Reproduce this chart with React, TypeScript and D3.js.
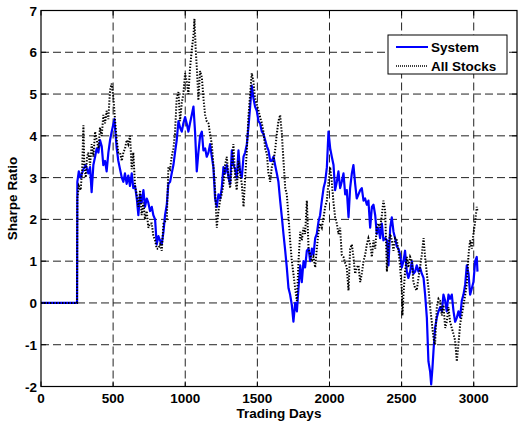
import React from "react";
import * as d3 from "d3";

const xTicks = [0, 500, 1000, 1500, 2000, 2500, 3000];
const yTicks = [-2, -1, 0, 1, 2, 3, 4, 5, 6, 7];
const seriesNames = ["System", "All Stocks"];

const systemSeries: [number, number][] = [
  [0, 0], [250, 0], [252, 2.9], [262, 3.15], [275, 3.0], [294, 3.2], [310, 3.3], [328, 3.1], [340, 3.25], [351, 2.65],
  [363, 3.3], [375, 3.5], [386, 3.7], [398, 3.6], [409, 3.9], [421, 3.75], [432, 3.3], [444, 3.4], [455, 3.15], [467, 3.6],
  [479, 3.9], [490, 4.1], [509, 4.4], [513, 4.2], [525, 3.7], [536, 3.4], [548, 3.2], [560, 3.0], [571, 2.9], [582, 3.1],
  [594, 2.85], [605, 3.05], [617, 2.8], [629, 3.1], [640, 2.75], [652, 2.8], [664, 2.5], [675, 2.1], [687, 2.6], [698, 2.4],
  [710, 2.7], [721, 2.3], [733, 2.5], [744, 2.4], [756, 2.2], [768, 2.3], [779, 2.1], [791, 2.0], [802, 1.4], [814, 1.6],
  [825, 1.5], [837, 1.4], [849, 1.7], [860, 2.1], [872, 2.35], [883, 2.85], [895, 2.9], [906, 3.1], [918, 3.3], [929, 3.6],
  [941, 3.9], [953, 4.35], [964, 4.2], [976, 4.1], [987, 4.3], [999, 4.45], [1010, 4.3], [1022, 4.1], [1033, 4.3], [1045, 4.5],
  [1057, 4.7], [1068, 4.1], [1080, 3.15], [1091, 3.6], [1103, 4.0], [1115, 4.1], [1126, 3.65], [1138, 3.7], [1149, 3.5], [1161, 3.6],
  [1172, 3.8], [1184, 3.5], [1195, 3.25], [1207, 2.5], [1219, 2.3], [1230, 2.6], [1242, 2.5], [1253, 2.75], [1265, 3.25], [1276, 3.1],
  [1288, 3.3], [1300, 3.0], [1311, 2.85], [1323, 3.65], [1334, 3.3], [1346, 3.2], [1357, 3.0], [1369, 3.65], [1380, 3.15], [1392, 3.0],
  [1404, 3.5], [1415, 3.6], [1427, 3.8], [1438, 4.2], [1450, 4.7], [1461, 5.2], [1473, 4.9], [1484, 4.7], [1496, 4.6], [1508, 4.35],
  [1519, 4.3], [1531, 4.1], [1542, 4.05], [1554, 3.9], [1566, 3.75], [1577, 3.65], [1589, 3.4], [1600, 3.4], [1612, 3.5], [1623, 3.3],
  [1635, 3.1], [1646, 2.9], [1658, 2.45], [1670, 2.05], [1681, 1.65], [1693, 1.25], [1704, 0.85], [1716, 0.35], [1727, 0.2], [1739, -0.05],
  [1750, -0.45], [1762, 0.0], [1774, -0.2], [1785, 0.35], [1797, 0.9], [1808, 0.5], [1820, 1.0], [1831, 0.85], [1843, 1.25], [1855, 1.3],
  [1866, 1.0], [1878, 1.3], [1889, 1.15], [1901, 1.55], [1912, 1.65], [1924, 1.95], [1935, 2.1], [1947, 2.45], [1959, 2.75], [1970, 2.9],
  [1982, 3.25], [1993, 4.1], [2005, 3.7], [2016, 3.5], [2028, 3.3], [2039, 2.7], [2051, 2.9], [2062, 3.15], [2074, 2.75], [2085, 2.9],
  [2097, 3.1], [2109, 2.6], [2120, 2.7], [2132, 2.05], [2143, 2.75], [2155, 3.1], [2166, 3.3], [2178, 2.85], [2189, 2.5], [2201, 2.6],
  [2213, 2.7], [2224, 2.75], [2236, 2.45], [2247, 2.5], [2259, 2.35], [2270, 2.45], [2282, 1.8], [2294, 2.3], [2305, 2.35], [2317, 2.1],
  [2328, 1.65], [2340, 1.8], [2351, 1.55], [2363, 1.9], [2374, 1.5], [2386, 1.55], [2398, 1.5], [2409, 0.9], [2421, 1.8], [2432, 2.05],
  [2444, 1.7], [2455, 1.55], [2467, 1.35], [2478, 1.3], [2490, 1.15], [2501, 0.85], [2513, 1.0], [2524, 1.25], [2536, 0.75], [2547, 0.6],
  [2559, 0.75], [2571, 1.0], [2582, 0.7], [2594, 0.75], [2605, 0.9], [2617, 0.75], [2628, 0.85], [2640, 0.7], [2652, 0.6], [2663, 0.2],
  [2675, -0.35], [2686, -1.4], [2698, -1.65], [2705, -1.95], [2714, -1.55], [2721, -1.15], [2732, -0.6], [2744, -0.35], [2756, -0.2], [2767, -0.1],
  [2779, -0.2], [2790, 0.2], [2802, 0.05], [2813, -0.2], [2825, 0.2], [2836, 0.1], [2848, 0.2], [2860, -0.2], [2871, -0.45], [2883, -0.35],
  [2894, -0.2], [2906, -0.35], [2917, 0.05], [2929, 0.2], [2941, 0.45], [2952, 0.9], [2964, 0.7], [2975, 0.2], [2987, 0.35], [2998, 0.5],
  [3010, 1.0], [3021, 1.1], [3026, 0.75],
];

const allStocksSeries: [number, number][] = [
  [0, 0], [250, 0], [252, 2.5], [262, 2.8], [275, 2.7], [285, 3.2], [294, 4.25], [300, 3.3], [310, 3.0], [320, 3.5],
  [328, 3.6], [340, 3.3], [351, 3.8], [363, 3.5], [375, 4.1], [386, 3.9], [398, 3.7], [409, 4.2], [421, 4.0], [432, 4.5],
  [444, 4.3], [455, 4.6], [467, 4.4], [479, 5.1], [490, 5.25], [502, 4.9], [513, 4.4], [525, 3.9], [536, 3.6], [548, 3.6],
  [560, 3.4], [571, 3.6], [583, 3.7], [594, 3.9], [605, 3.8], [617, 4.0], [629, 3.2], [640, 3.6], [652, 2.8], [664, 2.6],
  [675, 2.3], [687, 2.7], [698, 2.1], [710, 2.4], [721, 2.0], [733, 2.2], [744, 1.8], [756, 1.9], [768, 1.9], [779, 1.6],
  [791, 1.5], [802, 1.3], [814, 1.3], [825, 1.4], [837, 1.25], [849, 1.9], [860, 1.95], [872, 2.0], [883, 3.25], [895, 3.2],
  [906, 3.5], [918, 3.7], [929, 4.05], [941, 4.9], [953, 5.05], [964, 4.35], [976, 4.8], [987, 5.0], [999, 5.5], [1010, 5.3],
  [1022, 5.0], [1033, 5.6], [1045, 6.05], [1057, 6.4], [1064, 6.8], [1073, 6.05], [1082, 5.55], [1091, 4.85], [1103, 5.55], [1115, 5.4],
  [1126, 4.9], [1138, 4.5], [1149, 4.35], [1161, 4.3], [1172, 4.05], [1184, 3.8], [1195, 3.3], [1207, 2.7], [1219, 1.8], [1230, 2.2],
  [1242, 2.45], [1253, 2.6], [1265, 2.85], [1276, 3.3], [1288, 3.5], [1300, 3.0], [1311, 2.75], [1323, 3.25], [1334, 3.8], [1346, 3.0],
  [1357, 2.7], [1369, 3.4], [1380, 3.1], [1392, 2.85], [1404, 2.3], [1415, 3.0], [1427, 3.65], [1438, 4.45], [1450, 5.0], [1461, 5.5],
  [1473, 5.3], [1484, 4.9], [1496, 4.75], [1508, 4.6], [1519, 4.45], [1531, 4.3], [1542, 4.1], [1554, 3.7], [1566, 3.55], [1577, 3.1],
  [1589, 2.9], [1600, 3.25], [1612, 3.4], [1623, 3.65], [1635, 4.05], [1646, 4.35], [1658, 4.5], [1670, 4.05], [1681, 3.4], [1693, 2.75],
  [1704, 2.6], [1716, 2.05], [1727, 1.5], [1739, 1.0], [1750, 0.7], [1762, 0.35], [1774, 0.05], [1785, 1.0], [1797, 1.7], [1808, 1.5],
  [1820, 1.8], [1831, 1.65], [1843, 2.45], [1855, 1.3], [1866, 1.15], [1878, 1.0], [1889, 1.1], [1901, 0.85], [1912, 1.3], [1924, 1.7],
  [1935, 1.9], [1947, 1.8], [1959, 2.05], [1970, 2.3], [1982, 2.45], [1993, 2.9], [2005, 3.25], [2016, 2.9], [2028, 2.4], [2039, 2.05],
  [2051, 1.9], [2062, 1.65], [2074, 1.8], [2085, 1.15], [2097, 1.1], [2109, 0.95], [2120, 0.85], [2132, 0.3], [2143, 1.3], [2155, 1.4],
  [2166, 1.1], [2178, 0.7], [2189, 0.85], [2201, 0.9], [2213, 0.5], [2224, 0.7], [2236, 1.0], [2247, 1.15], [2259, 1.4], [2270, 1.55],
  [2282, 1.4], [2294, 1.1], [2305, 1.5], [2317, 1.3], [2328, 1.8], [2340, 1.9], [2351, 1.8], [2363, 2.1], [2374, 2.45], [2386, 2.2],
  [2398, 0.75], [2409, 1.4], [2421, 1.65], [2432, 1.5], [2444, 1.25], [2455, 1.55], [2467, 1.5], [2478, 1.25], [2490, 0.85], [2501, 0.35],
  [2506, -0.3], [2513, 0.2], [2524, 0.75], [2536, 1.1], [2547, 0.85], [2559, 1.1], [2571, 1.0], [2582, 0.5], [2594, 0.35], [2605, 0.3],
  [2617, 0.6], [2628, 0.85], [2640, 1.15], [2652, 1.55], [2663, 1.1], [2675, 0.7], [2686, 0.35], [2698, -0.1], [2709, -0.45], [2721, -0.85],
  [2732, -1.0], [2744, -0.1], [2756, 0.1], [2767, 0.05], [2779, -0.3], [2790, -0.05], [2802, -0.6], [2813, -0.45], [2825, -0.1], [2836, -0.45],
  [2848, -0.6], [2860, -0.75], [2871, -0.9], [2883, -1.4], [2894, -1.0], [2906, -0.5], [2917, -0.3], [2929, -0.05], [2941, 0.2], [2952, 0.45],
  [2964, 1.15], [2975, 1.5], [2987, 1.3], [2998, 1.65], [3010, 1.95], [3021, 2.3], [3026, 2.2],
];

const W = 519;
const H = 427;
const M = { left: 41, right: 517, top: 10.5, bottom: 386.5 };
const FONT = "'Liberation Sans', Arial, Helvetica, sans-serif";

export default function App() {
  const x = d3.scaleLinear().domain([0, 3300]).range([M.left, M.right]);
  const y = d3.scaleLinear().domain([-2, 7]).range([M.bottom, M.top]);
  const line = d3
    .line<[number, number]>()
    .x((d) => x(d[0]))
    .y((d) => y(d[1]));
  const tickLen = 5;
  const gridDash = "8,4";

  return (
    <svg
      width={W}
      height={H}
      style={{ position: "absolute", left: 0, top: 0, background: "#fff" }}
      fontFamily={FONT}
    >
      <rect x={0} y={0} width={W} height={H} fill="#fff" />
      {/* grid */}
      {xTicks.slice(1).map((t) => (
        <line key={"gx" + t} x1={x(t)} x2={x(t)} y1={M.top} y2={M.bottom} stroke="#222" strokeWidth={1} strokeDasharray={gridDash} />
      ))}
      {yTicks.slice(1, -1).map((t) => (
        <line key={"gy" + t} x1={M.left} x2={M.right} y1={y(t)} y2={y(t)} stroke="#222" strokeWidth={1} strokeDasharray={gridDash} />
      ))}
      {/* series */}
      <path d={line(systemSeries) || ""} fill="none" stroke="#0000ff" strokeWidth={2.2} strokeLinejoin="round" />
      <path d={line(allStocksSeries) || ""} fill="none" stroke="#000" strokeWidth={2} strokeDasharray="1.4,1.6" />
      {/* frame */}
      <rect x={M.left} y={M.top} width={M.right - M.left} height={M.bottom - M.top} fill="none" stroke="#000" strokeWidth={1.2} />
      {/* ticks */}
      {xTicks.map((t) => (
        <g key={"tx" + t}>
          <line x1={x(t)} x2={x(t)} y1={M.bottom} y2={M.bottom - tickLen} stroke="#000" />
          <line x1={x(t)} x2={x(t)} y1={M.top} y2={M.top + tickLen} stroke="#000" />
          <text x={x(t)} y={403} textAnchor="middle" fontSize={13.5} fontWeight="bold">
            {t}
          </text>
        </g>
      ))}
      {yTicks.map((t) => (
        <g key={"ty" + t}>
          <line x1={M.left} x2={M.left + tickLen} y1={y(t)} y2={y(t)} stroke="#000" />
          <line x1={M.right} x2={M.right - tickLen} y1={y(t)} y2={y(t)} stroke="#000" />
          <text x={37} y={y(t) + 5} textAnchor="end" fontSize={13.5} fontWeight="bold">
            {t}
          </text>
        </g>
      ))}
      <text x={(M.left + M.right) / 2} y={418} textAnchor="middle" fontSize={13.5} fontWeight="bold">
        Trading Days
      </text>
      <text
        transform={`translate(17, ${(M.top + M.bottom) / 2}) rotate(-90)`}
        textAnchor="middle"
        fontSize={13.5}
        fontWeight="bold"
      >
        Sharpe Ratio
      </text>
      {/* legend */}
      <rect x={388} y={35} width={119} height={39} fill="#fff" stroke="#000" strokeWidth={1} />
      <line x1={396} x2={428} y1={47} y2={47} stroke="#0000ff" strokeWidth={2} />
      <text x={431} y={52} fontSize={13.5} fontWeight="bold">{seriesNames[0]}</text>
      <line x1={396} x2={428} y1={66} y2={66} stroke="#000" strokeWidth={1.3} strokeDasharray="1,1" />
      <text x={431} y={71} fontSize={13.5} fontWeight="bold">{seriesNames[1]}</text>
    </svg>
  );
}
